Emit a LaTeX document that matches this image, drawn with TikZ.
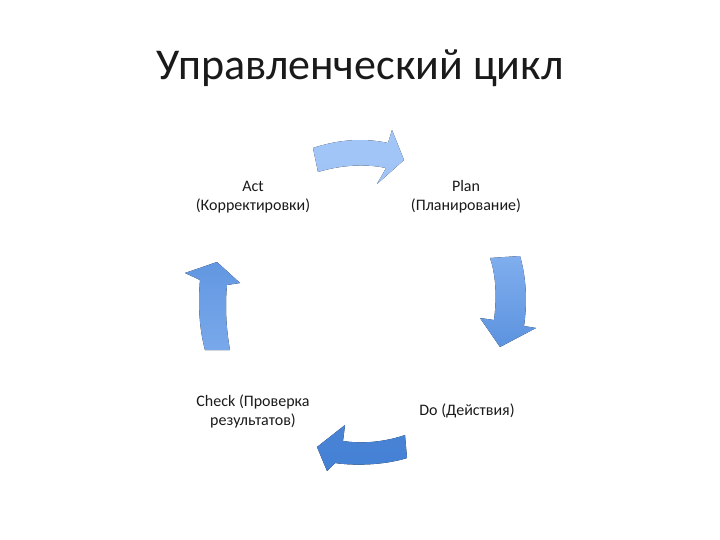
\documentclass[tikz,border=0pt]{standalone}
\usepackage{fontspec}
\setmainfont{Carlito}
\usepackage{xcolor}
\usetikzlibrary{positioning}
\definecolor{cyclight}{HTML}{A3C6F7}
\definecolor{cycmid}{HTML}{80AEEE}
\definecolor{cycdeep}{HTML}{5C93DF}
\definecolor{cycdark}{HTML}{4480D4}
\definecolor{cyctext}{HTML}{1A1A1A}
\tikzset{
  title/.style  ={anchor=base, font=\fontsize{44}{52}\selectfont, text=cyctext},
  phase/.style  ={align=center, font=\fontsize{16}{19}\selectfont, text=cyctext,
                  inner sep=0pt},
  cycarrow/.style={draw=none},
  toparrow/.style  ={cycarrow, top color=cyclight, bottom color=cyclight!90!cycmid},
  rightarrow/.style={cycarrow, top color=cycmid, bottom color=cycdeep},
  botarrow/.style  ={cycarrow, top color=cycdark!92!cycmid, bottom color=cycdark},
  leftarrow/.style ={cycarrow, top color=cycdeep!85!cycmid, bottom color=cycmid!80!cycdeep},
}

\begin{document}
\begin{tikzpicture}[x=1pt, y=-1pt]
  \path[use as bounding box, fill=white] (0,0) rectangle (720,540);

  \node[title] (head) at (360,80) {Управленческий цикл};

  \node[phase] (act)   at (253,197) {Act\\(Корректировки)};
  \node[phase] (plan)  at (466,197) {Plan\\(Планирование)};
  \node[phase] (check) at (253,411) {Check (Проверка\\результатов)};
  \node[phase] (do)    at (467,411) {Do (Действия)};

  % block arrows of the cycle
  \fill[toparrow] (313,148) .. controls (340,139) and (365,138) .. (388,143)
    -- (392,130) -- (404,160) -- (377,184) -- (386,168)
    .. controls (362,163) and (338,166) .. (318,172) -- cycle;
  \fill[rightarrow] (490,258) -- (520,256)
    .. controls (527,280) and (527,305) .. (524,326)
    -- (536,328) -- (500,347) -- (480,318) -- (494,320)
    .. controls (497,298) and (496,275) .. (490,258) -- cycle;
  \fill[botarrow] (405,435) -- (407,458)
    .. controls (385,465) and (355,466) .. (335,463)
    -- (327,471) -- (317,447) -- (345,425) -- (343,441)
    .. controls (362,444) and (385,442) .. (405,435) -- cycle;
  \fill[leftarrow] (205,350) .. controls (199,328) and (198,303) .. (200,280)
    -- (185,273) -- (217,262) -- (240,283) -- (227,285)
    .. controls (225,305) and (226,328) .. (230,350) -- cycle;

\end{tikzpicture}
\end{document}
